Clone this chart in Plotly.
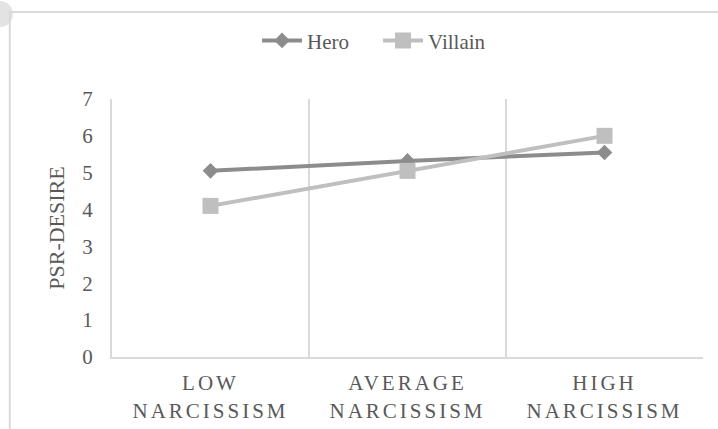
import plotly.graph_objects as go

categories = ["LOW<br>NARCISSISM", "AVERAGE<br>NARCISSISM", "HIGH<br>NARCISSISM"]
cat_pos = [1, 2, 3]
hero = [5.05, 5.32, 5.55]
villain = [4.10, 5.05, 6.00]
y_ticks = [0, 1, 2, 3, 4, 5, 6, 7]

FONT = "Liberation Serif"
TXT = "#595959"
GRID = "#d9d9d9"

fig = go.Figure()
fig.add_trace(go.Scatter(
    x=cat_pos, y=hero, name="Hero", mode="lines+markers",
    line=dict(color="#8c8c8c", width=4),
    marker=dict(symbol="diamond", size=12, color="#8c8c8c"),
))
fig.add_trace(go.Scatter(
    x=cat_pos, y=villain, name="Villain", mode="lines+markers",
    line=dict(color="#bfbfbf", width=4),
    marker=dict(symbol="square", size=16, color="#bfbfbf"),
))

fig.update_layout(
    width=718, height=429,
    margin=dict(l=112, r=15, t=99, b=72, autoexpand=False),
    paper_bgcolor="white", plot_bgcolor="white",
    font=dict(family=FONT, color=TXT, size=21),
    showlegend=True,
    legend=dict(orientation="h", x=0.358, xanchor="left", xref="container",
                y=0.905, yanchor="middle", yref="container",
                font=dict(family=FONT, size=21, color=TXT),
                itemwidth=40, entrywidth=66, bgcolor="rgba(0,0,0,0)"),
    xaxis=dict(
        range=[0.5, 3.5], tickvals=cat_pos, ticktext=categories,
        showgrid=False, zeroline=False,
        showline=True, linecolor=GRID, linewidth=2,
        ticks="", tickfont=dict(family=FONT, size=21, color=TXT),
        ticklabelstandoff=6,
        minor=dict(tickvals=[1.5, 2.5, 3.5], showgrid=True, gridcolor=GRID,
                   gridwidth=2, ticks=""),
    ),
    yaxis=dict(
        range=[0, 7], tickvals=y_ticks, showgrid=False, zeroline=False,
        showline=True, linecolor=GRID, linewidth=2, ticks="",
        tickfont=dict(family=FONT, size=21, color=TXT), ticklabelstandoff=13,
        title=dict(text="PSR-DESIRE", font=dict(family=FONT, size=22, color=TXT), standoff=12),
    ),
    shapes=[
        dict(type="circle", xref="paper", yref="paper", layer="below",
             x0=-0.2115, x1=-0.1675, y0=1.279, y1=1.380,
             fillcolor="#e3e3e3", line=dict(width=0)),
        dict(type="line", xref="paper", yref="paper", x0=-0.175, x1=1.05,
             y0=1.337, y1=1.337, line=dict(color=GRID, width=2)),
        dict(type="line", xref="paper", yref="paper", x0=-0.173, x1=-0.173,
             y0=1.337, y1=-0.3, line=dict(color=GRID, width=2)),
    ],
)

post = """
document.body.style.margin='0';
var s=document.createElement('style');
s.innerHTML='body{margin:0;} .xtick text{letter-spacing:3px;}';
document.head.appendChild(s);
"""
fig.write_html("out.html", config={"displayModeBar": False}, post_script=post)
